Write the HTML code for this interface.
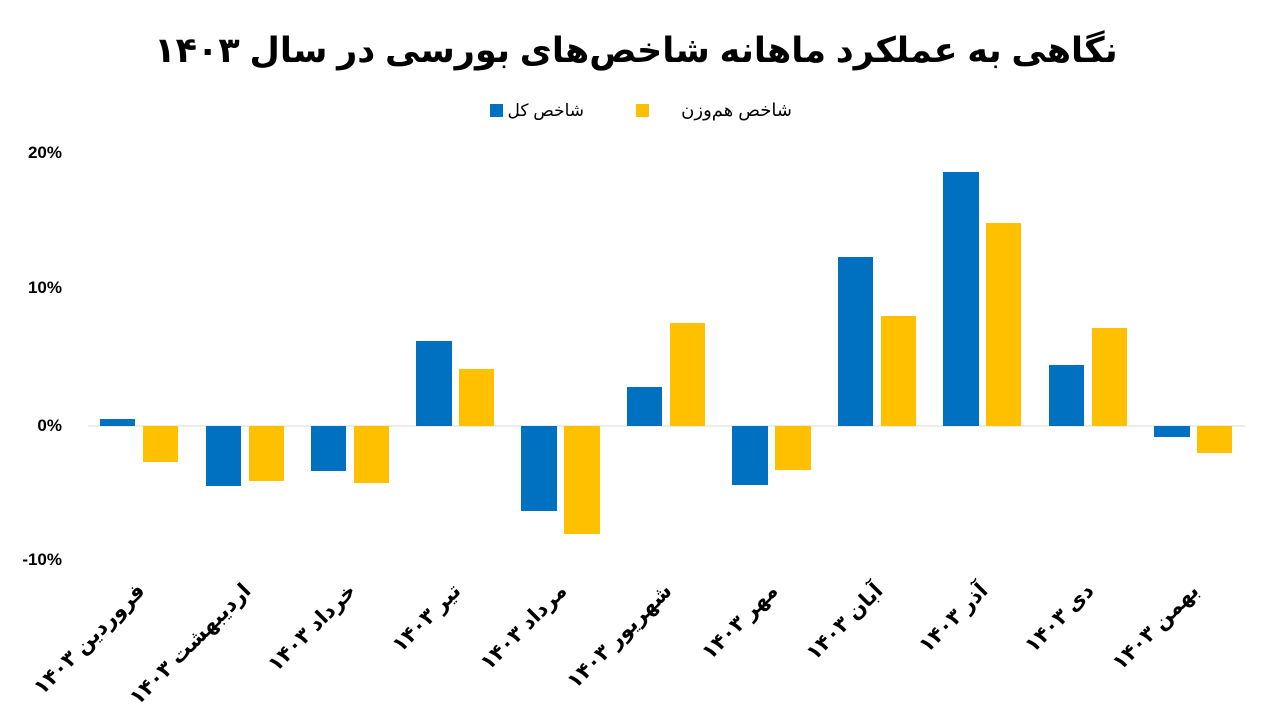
<!DOCTYPE html>
<html><head><meta charset="utf-8"><style>
body{margin:0;background:#fff;}
svg text{font-family:"Liberation Sans","Noto Sans CJK SC","DejaVu Sans",sans-serif;font-weight:bold;}
</style></head><body>
<svg width="1280" height="720" viewBox="0 0 1280 720" xmlns="http://www.w3.org/2000/svg">
<text x="636" y="62" text-anchor="middle" font-size="35" direction="rtl">نگاهی به عملکرد ماهانه شاخص‌های بورسی در سال ۱۴۰۳</text>
<rect x="490" y="104" width="13" height="13" fill="#0070C0"/>
<text x="584" y="116" text-anchor="start" font-size="17" style="font-weight:normal" direction="rtl">شاخص کل</text>
<rect x="636" y="104" width="13" height="13" fill="#FFC000"/>
<text x="792" y="116" text-anchor="start" font-size="18" style="font-weight:normal" direction="rtl">شاخص هم‌وزن</text>
<g font-size="17" text-anchor="end">
<text x="62" y="158">20%</text>
<text x="62" y="293">10%</text>
<text x="62" y="431">0%</text>
<text x="62" y="565">-10%</text>
</g>
<line x1="88" y1="426" x2="1245" y2="426" stroke="#d9d9d9" stroke-width="1"/>
<g fill="#0070C0">
<rect x="100" y="419" width="35" height="7"/>
<rect x="206" y="426" width="35" height="60"/>
<rect x="311" y="426" width="35" height="45"/>
<rect x="416" y="341" width="36" height="85"/>
<rect x="521" y="426" width="36" height="85"/>
<rect x="627" y="387" width="35" height="39"/>
<rect x="732" y="426" width="36" height="59"/>
<rect x="838" y="257" width="35" height="169"/>
<rect x="943" y="172" width="36" height="254"/>
<rect x="1049" y="365" width="35" height="61"/>
<rect x="1154" y="426" width="36" height="11"/>
</g>
<g fill="#FFC000">
<rect x="143" y="426" width="35" height="36"/>
<rect x="249" y="426" width="35" height="55"/>
<rect x="354" y="426" width="35" height="57"/>
<rect x="459" y="369" width="35" height="57"/>
<rect x="564" y="426" width="36" height="108"/>
<rect x="670" y="323" width="35" height="103"/>
<rect x="775" y="426" width="36" height="44"/>
<rect x="881" y="316" width="35" height="110"/>
<rect x="986" y="223" width="35" height="203"/>
<rect x="1092" y="328" width="35" height="98"/>
<rect x="1197" y="426" width="35" height="27"/>
</g>
<g font-size="21" direction="rtl" text-anchor="start">
<text transform="translate(146,592) rotate(-45)">فروردین ۱۴۰۳</text>
<text transform="translate(252,592) rotate(-45)">اردیبهشت ۱۴۰۳</text>
<text transform="translate(357,592) rotate(-45)">خرداد ۱۴۰۳</text>
<text transform="translate(462,592) rotate(-45)">تیر ۱۴۰۳</text>
<text transform="translate(568,592) rotate(-45)">مرداد ۱۴۰۳</text>
<text transform="translate(673,592) rotate(-45)">شهریور ۱۴۰۳</text>
<text transform="translate(779,592) rotate(-45)">مهر ۱۴۰۳</text>
<text transform="translate(884,592) rotate(-45)">آبان ۱۴۰۳</text>
<text transform="translate(989,592) rotate(-45)">آذر ۱۴۰۳</text>
<text transform="translate(1095,592) rotate(-45)">دی ۱۴۰۳</text>
<text transform="translate(1200,592) rotate(-45)">بهمن ۱۴۰۳</text>
</g>
</svg>
</body></html>
